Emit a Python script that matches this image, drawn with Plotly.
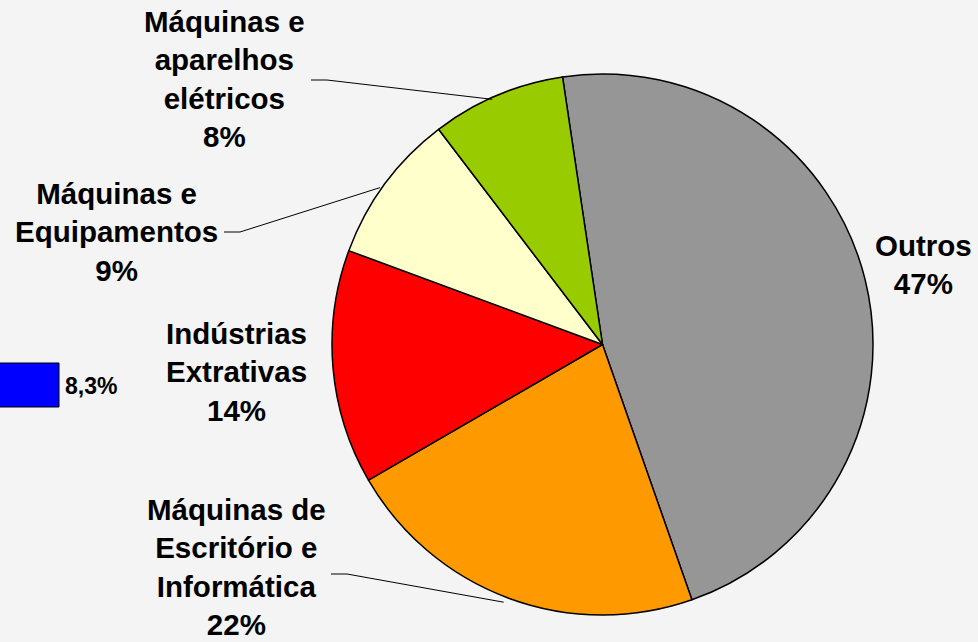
import math
import plotly.graph_objects as go

labels = ["Outros", "Máquinas de Escritório e Informática", "Indústrias Extrativas",
          "Máquinas e Equipamentos", "Máquinas e aparelhos elétricos"]
values = [47, 22, 14, 9, 8]
colors = ["#969696", "#FF9900", "#FF0000", "#FFFFCC", "#99CC00"]
label_texts = ["Outros<br>47%",
               "Máquinas de<br>Escritório e<br>Informática<br>22%",
               "Indústrias<br>Extrativas<br>14%",
               "Máquinas e<br>Equipamentos<br>9%",
               "Máquinas e<br>aparelhos<br>elétricos<br>8%"]
side_value_text = "8,3%"

W, H = 978, 642
cx, cy, r = 602.5, 344.5, 270.5
rotation = -8.5

def px(x):
    return x / W

def py(y):
    return 1 - y / H

fig = go.Figure(go.Pie(
    labels=labels, values=values, sort=False, direction="clockwise",
    rotation=rotation, textinfo="none", hoverinfo="label+percent",
    marker=dict(colors=colors, line=dict(color="black", width=1.5)),
    domain=dict(x=[px(cx - r), px(cx + r)], y=[py(cy + r), py(cy - r)]),
    showlegend=False,
))

# label positions (pixel centres) and leader line starts
label_pos = [(923, 264), (236, 567), (236, 372), (116, 232), (224, 79)]
leader_start = {1: (331, 574), 3: (224, 232), 4: (311, 80)}

total = sum(values)
ang = rotation
mids = []
for v in values:
    span = 360 * v / total
    mids.append(ang + span / 2)
    ang += span

annotations = []
for i, t in enumerate(label_texts):
    x, y = label_pos[i]
    annotations.append(dict(x=px(x), y=py(y), xref="paper", yref="paper",
                            text="<b>" + t + "</b>", showarrow=False,
                            font=dict(family="Liberation Sans, Arial", size=29.5, color="black"),
                            align="center", xanchor="center", yanchor="middle"))

shapes = []
for i, (sx, sy) in leader_start.items():
    a = math.radians(mids[i])
    ex = cx + r * math.sin(a) - 5
    ey = cy - r * math.cos(a) + 4
    path = f"M {px(sx)} {py(sy)} L {px(sx + 16)} {py(sy)} L {px(ex)} {py(ey)}"
    shapes.append(dict(type="path", path=path, xref="paper", yref="paper",
                       line=dict(color="black", width=1)))

# leftover blue legend box
shapes.append(dict(type="rect", xref="paper", yref="paper",
                   x0=px(-2), x1=px(59), y0=py(407), y1=py(363),
                   fillcolor="#0000FF", line=dict(color="black", width=1)))
annotations.append(dict(x=px(63), y=py(386), xref="paper", yref="paper",
                        text="<b>" + side_value_text + "</b>", showarrow=False,
                        font=dict(family="Liberation Sans, Arial", size=23, color="black"),
                        xanchor="left", yanchor="middle"))

fig.update_layout(width=W, height=H, margin=dict(l=0, r=0, t=0, b=0),
                  paper_bgcolor="#F4F4F4", plot_bgcolor="#F4F4F4",
                  annotations=annotations, shapes=shapes)

fig.write_html("out.html", config={"displayModeBar": False},
               post_script="document.body.style.margin='0';document.body.style.overflow='hidden';")
